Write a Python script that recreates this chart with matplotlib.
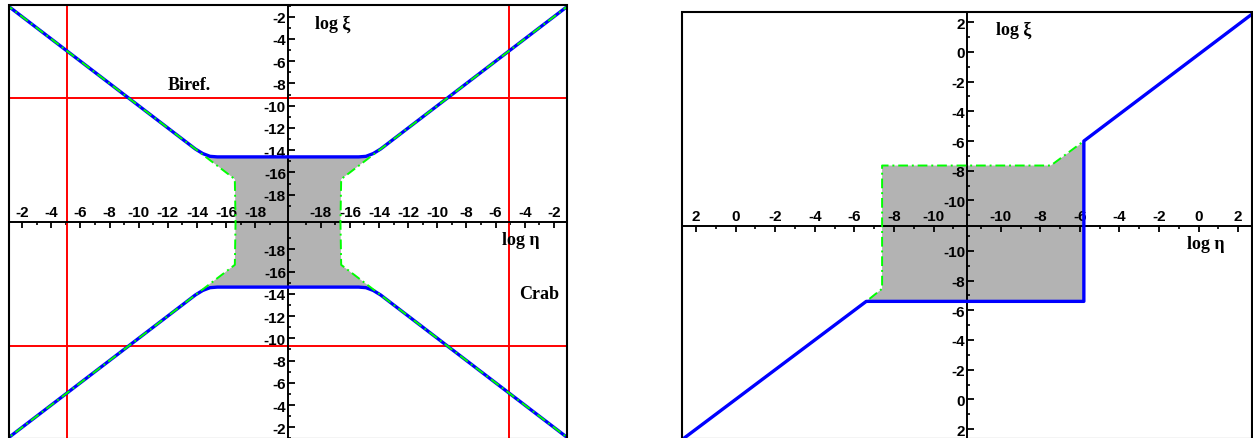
import numpy as np
import matplotlib.pyplot as plt
from matplotlib.patches import Rectangle
from matplotlib.ticker import FixedLocator, FixedFormatter

plt.rcParams['font.family'] = ['Liberation Sans', 'DejaVu Sans']
plt.rcParams['font.weight'] = 'bold'

# ---------------- data (log10 values) ----------------
# left panel: axis origin sits at these log values (both halves are mirrored)
L_ETA0 = -20.25
L_XI0 = -20.45
l_ticks = [-2, -4, -6, -8, -10, -12, -14, -16, -18]

# upper-left quadrant, the other three are mirror images
l_blue_eta = [-0.8, -13.9, -14.4, -14.9, -15.4, -20.25]
l_blue_xi = [-0.8, -13.9, -14.3, -14.55, -14.6, -14.6]
l_green_eta = [-0.8, -16.6, -16.65]
l_green_xi = [-0.8, -16.6, -20.45]
l_gray_eta = [-20.25, -14.6, -16.6, -16.65]
l_gray_xi = [-14.6, -14.6, -16.6, -20.45]
biref_xi = -9.3
crab_eta = -5.1

# right panel
R_ETA0 = -11.7
R_XI0 = -11.7
r_ticks = [2, 0, -2, -4, -6, -8, -10]

r_blue_eta = [2.8, -6.6, -11.7, -5.8, -5.8, -5.8, 3.0]
r_blue_xi = [2.8, -6.6, -6.6, -6.6, -11.7, -6.0, 2.85]
r_blue_sx = [-1, -1, 1, 1, 1, 1, 1]
r_blue_sy = [-1, -1, -1, -1, 1, 1, 1]

r_green_eta = [2.8, -6.6, -7.4, -7.4, -7.4, -11.7, -7.47, -5.8, 3.0]
r_green_xi = [2.8, -6.6, -7.45, -11.7, -7.65, -7.65, -7.65, -6.0, 2.85]
r_green_sx = [-1, -1, -1, -1, -1, 1, 1, 1, 1]
r_green_sy = [-1, -1, -1, -1, 1, 1, 1, 1, 1]

r_gray_eta = [-7.4, -7.4, -11.7, -7.47, -5.8, -5.8, -5.8, -11.7, -6.6, -7.4]
r_gray_xi = [-11.7, -7.65, -7.65, -7.65, -6.04, -11.7, -6.6, -6.6, -6.6, -7.45]
r_gray_sx = [-1, -1, 1, 1, 1, 1, 1, 1, -1, -1]
r_gray_sy = [1, 1, 1, 1, 1, 1, -1, -1, -1, -1]

BLUE = '#0000ff'
GREEN = '#00ff00'
RED = '#ff0000'
GRAY = '#b3b3b3'
SERIF = ['Liberation Serif', 'DejaVu Serif']


def fold(vals, signs, origin):
    # distance from the axis origin, signed by the half of the plot
    return np.asarray(signs) * (np.asarray(vals, float) - origin)


def setup_axes(ax, ticks, x0, y0, xlim, ylim):
    ax.set_xlim(-xlim, xlim)
    ax.set_ylim(-ylim, ylim)
    for s in ['bottom', 'right']:
        ax.spines[s].set_visible(False)
    ax.spines['top'].set_position(('data', 0))
    ax.spines['left'].set_position(('data', 0))
    ax.spines['top'].set_linewidth(1.4)
    ax.spines['left'].set_linewidth(1.4)

    xt = [-(t - x0) for t in ticks] + [(t - x0) for t in ticks[::-1]]
    yt = [-(t - y0) for t in ticks] + [(t - y0) for t in ticks[::-1]]
    labs = [str(t) for t in ticks] + [str(t) for t in ticks[::-1]]
    odd = [t - 1 for t in ticks] + [ticks[0] + 1]
    xm = [-(t - x0) for t in odd] + [(t - x0) for t in odd]
    ym = [-(t - y0) for t in odd] + [(t - y0) for t in odd]

    ax.xaxis.set_ticks_position('top')
    ax.yaxis.set_ticks_position('left')
    ax.xaxis.set_major_locator(FixedLocator(xt))
    ax.xaxis.set_major_formatter(FixedFormatter(labs))
    ax.yaxis.set_major_locator(FixedLocator(yt))
    ax.yaxis.set_major_formatter(FixedFormatter(labs[::-1]))
    ax.xaxis.set_minor_locator(FixedLocator(xm))
    ax.yaxis.set_minor_locator(FixedLocator(ym))
    ax.tick_params(which='major', direction='in', length=4.5, width=1.3,
                   labelsize=11, pad=2)
    ax.tick_params(which='minor', direction='in', length=2.5, width=1.2)
    ax.tick_params(axis='y', which='major', length=5, pad=1.5)

    ax.add_patch(Rectangle((0, 0), 1, 1, transform=ax.transAxes, fill=False,
                           lw=1.5, ec='black', clip_on=False, zorder=6))


fig = plt.figure(figsize=(12.53, 4.39), dpi=100)

# ================= LEFT PANEL =================
ax1 = fig.add_axes([9 / 1253, -1 / 439, 558 / 1253, 434 / 439])
setup_axes(ax1, l_ticks, L_ETA0, L_XI0, 19.15, 19.5)

gu = fold(l_gray_eta, -1, L_ETA0)
gv = fold(l_gray_xi, 1, L_XI0)
pu = np.concatenate([gu, gu[::-1], -gu, -gu[::-1]])
pv = np.concatenate([gv, -gv[::-1], -gv, gv[::-1]])
ax1.fill(pu, pv, color=GRAY, lw=0, zorder=1)

cu = fold([crab_eta], 1, L_ETA0)[0]
bv = fold([biref_xi], 1, L_XI0)[0]
for s in [-1, 1]:
    ax1.axvline(s * cu, color=RED, lw=1.4, zorder=2)
    ax1.axhline(s * bv, color=RED, lw=1.4, zorder=2)

bu = fold(l_blue_eta, -1, L_ETA0)
bvv = fold(l_blue_xi, 1, L_XI0)
for s in [-1, 1]:
    ax1.plot(np.concatenate([bu, -bu[::-1]]), s * np.concatenate([bvv, bvv[::-1]]),
             color=BLUE, lw=2.4, zorder=3, solid_capstyle='butt')

eu = fold(l_green_eta, -1, L_ETA0)
ev = fold(l_green_xi, 1, L_XI0)
for s in [-1, 1]:
    ax1.plot(s * np.concatenate([eu, eu[::-1]]), np.concatenate([ev, -ev[::-1]]),
             color=GREEN, lw=1.4, ls=(0, (5, 2, 1, 2)), zorder=4)

ax1.text(0.3235, 0.8157, 'Biref.', transform=ax1.transAxes, family=SERIF,
         fontsize=13, weight='bold', ha='center', va='center')
ax1.text(0.5797, 0.9585, 'log ξ', transform=ax1.transAxes, family=SERIF,
         fontsize=13, weight='bold', ha='center', va='center')
ax1.text(0.9176, 0.459, 'log η', transform=ax1.transAxes, family=SERIF,
         fontsize=13, weight='bold', ha='center', va='center')
ax1.text(0.9498, 0.3364, 'Crab', transform=ax1.transAxes, family=SERIF,
         fontsize=13, weight='bold', ha='center', va='center')

# ================= RIGHT PANEL =================
ax2 = fig.add_axes([682.3 / 1253, -1 / 439, 569.7 / 1253, 426.7 / 439])
setup_axes(ax2, r_ticks, R_ETA0, R_XI0, 14.4, 14.37)

ax2.fill(fold(r_gray_eta, r_gray_sx, R_ETA0), fold(r_gray_xi, r_gray_sy, R_XI0),
         color=GRAY, lw=0, zorder=1)
ax2.plot(fold(r_green_eta, r_green_sx, R_ETA0), fold(r_green_xi, r_green_sy, R_XI0),
         color=GREEN, lw=1.4, ls=(0, (5, 2, 1, 2)), zorder=3)
ax2.plot(fold(r_blue_eta, r_blue_sx, R_ETA0), fold(r_blue_xi, r_blue_sy, R_XI0),
         color=BLUE, lw=2.4, zorder=4)

ax2.text(0.582, 0.961, 'log ξ', transform=ax2.transAxes, family=SERIF,
         fontsize=13, weight='bold', ha='center', va='center')
ax2.text(0.919, 0.4586, 'log η', transform=ax2.transAxes, family=SERIF,
         fontsize=13, weight='bold', ha='center', va='center')

fig.savefig('out.png', dpi=100)
